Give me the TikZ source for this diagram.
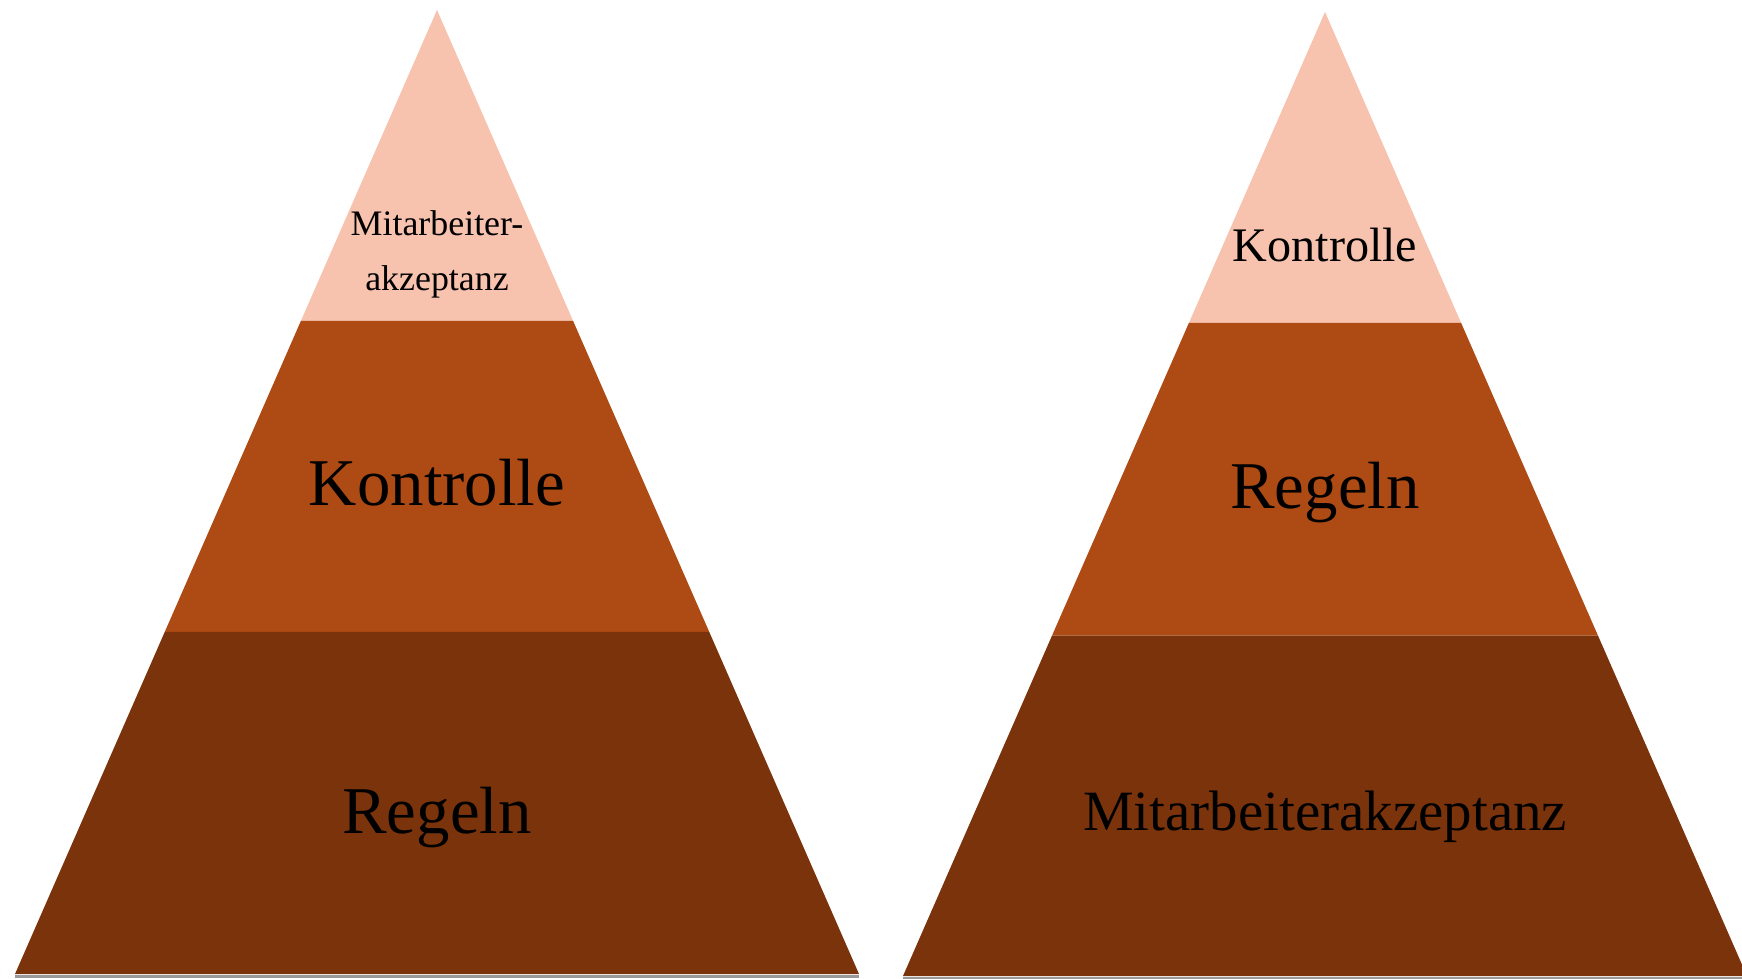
\documentclass[tikz,border=0pt]{standalone}
\usepackage{fontspec}
\setmainfont{Liberation Serif}
\usetikzlibrary{calc}
\definecolor{tipcol}{RGB}{247,194,174}
\definecolor{midcol}{RGB}{174,74,20}
\definecolor{basecol}{RGB}{123,51,12}

\begin{document}
\begin{tikzpicture}[x=0.01cm,y=-0.01cm]
\tikzset{layer/.style={inner sep=0pt,text=black,align=center},
  shade line/.style={draw=black!40,line width=0.03cm}}
\useasboundingbox (0,0) rectangle (1742,979);
\clip (0,0) rectangle (1742,979);
% left pyramid
\coordinate (LA) at (437,10);
\coordinate (LL) at (15,974);
\coordinate (LR) at (859,974);
\coordinate (LL1) at ($(LA)!0.3226!(LL)$);
\coordinate (LR1) at ($(LA)!0.3226!(LR)$);
\coordinate (LL2) at ($(LA)!0.645!(LL)$);
\coordinate (LR2) at ($(LA)!0.645!(LR)$);
\draw [shade line] ($(LL)+(0,2)$) -- ($(LR)+(0,2)$);
\fill [tipcol] (LA) -- (LL1) -- (LR1) -- cycle;
\fill [midcol] (LL1) -- (LL2) -- (LR2) -- (LR1) -- cycle;
\fill [basecol] (LL2) -- (LL) -- (LR) -- (LR2) -- cycle;
\node [layer,font=\fontsize{10.2}{15.6}\selectfont] (ltop) at (437,254) {Mitarbeiter-\\akzeptanz};
\node [layer,font=\fontsize{19}{22}\selectfont] (lmid) at (437,483) {Kontrolle};
\node [layer,font=\fontsize{19}{22}\selectfont] (lbot) at (437,818) {Regeln};
% right pyramid
\coordinate (RA) at (1325,12);
\coordinate (RL) at (903,976);
\coordinate (RR) at (1747,976);
\coordinate (RL1) at ($(RA)!0.3226!(RL)$);
\coordinate (RR1) at ($(RA)!0.3226!(RR)$);
\coordinate (RL2) at ($(RA)!0.647!(RL)$);
\coordinate (RR2) at ($(RA)!0.647!(RR)$);
\draw [shade line] ($(RL)+(0,2)$) -- ($(RR)+(0,2)$);
\fill [tipcol] (RA) -- (RL1) -- (RR1) -- cycle;
\fill [midcol] (RL1) -- (RL2) -- (RR2) -- (RR1) -- cycle;
\fill [basecol] (RL2) -- (RL) -- (RR) -- (RR2) -- cycle;
\node [layer,font=\fontsize{13.7}{16}\selectfont] (rtop) at (1325,245) {Kontrolle};
\node [layer,font=\fontsize{19}{22}\selectfont] (rmid) at (1325,493) {Regeln};
\node [layer,font=\fontsize{16.2}{20}\selectfont] (rbot) at (1325,817) {Mitarbeiterakzeptanz};
\end{tikzpicture}
\end{document}
